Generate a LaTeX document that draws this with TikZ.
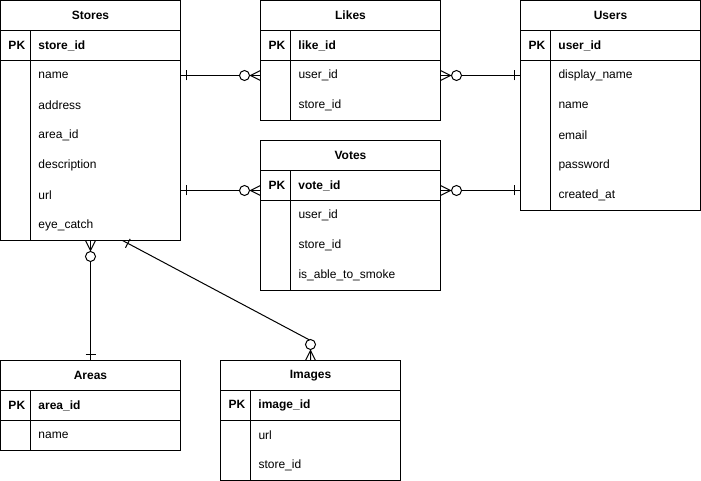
\documentclass[tikz,border=0pt]{standalone}
\usepackage{fontspec}
\setmainfont{Liberation Sans}
\usepackage{tikz}
\usetikzlibrary{positioning, fit, decorations.markings}

\newcommand{\keycol}[1]{\makebox[30pt][l]{#1}}

\begin{document}
\begin{tikzpicture}[
  x=1pt, y=-1pt, line width=1pt,
  font=\fontsize{12pt}{14pt}\selectfont,
  head/.style={rectangle, draw, anchor=north west, minimum width=180pt,
               minimum height=30pt, inner sep=0pt, outer sep=0pt,
               font=\fontsize{12pt}{14pt}\selectfont\bfseries},
  row/.style={rectangle, minimum height=30pt, text width=164pt,
              inner xsep=8pt, inner ysep=0pt, outer sep=0pt, align=left},
  pkrow/.style={row, draw, font=\fontsize{12pt}{14pt}\selectfont\bfseries},
  body/.style={rectangle, draw, inner sep=0pt, outer sep=0pt},
  one start/.style={postaction={decorate, decoration={markings,
      mark=at position 6pt with {\draw (0pt,-5pt) -- (0pt,5pt);}}}},
  one end/.style={postaction={decorate, decoration={markings,
      mark=at position -6pt with {\draw (0pt,-5pt) -- (0pt,5pt);}}}},
  many start/.style={postaction={decorate, decoration={markings,
      mark=at position 10pt with {\draw (-10pt,-5pt) -- (0pt,0pt) -- (-10pt,5pt);},
      mark=at position 16pt with {\draw[fill=white] (0pt,0pt) circle (5pt);}}}},
  many end/.style={postaction={decorate, decoration={markings,
      mark=at position -10pt with {\draw (10pt,-5pt) -- (0pt,0pt) -- (10pt,5pt);},
      mark=at position -16pt with {\draw[fill=white] (0pt,0pt) circle (5pt);}}}}
]
\useasboundingbox[fill=white] (-0.5,-0.5) rectangle (700.5,480.5);

%% Stores
\node[head] (SH) at (0,0) {Stores};
\node[pkrow, below=0pt of SH] (SK) {\keycol{PK}store\_id};
\node[row, below=0pt of SK] (S1) {\keycol{}name};
\node[row, below=0pt of S1] (S2) {\keycol{}address};
\node[row, below=0pt of S2] (S3) {\keycol{}area\_id};
\node[row, below=0pt of S3] (S4) {\keycol{}description};
\node[row, below=0pt of S4] (S5) {\keycol{}url};
\node[row, below=0pt of S5] (S6) {\keycol{}eye\_catch};
\node[body, fit=(S1)(S6)] (SB) {};
\draw ([xshift=30pt]SK.north west) -- ([xshift=30pt]SB.south west);

%% Likes
\node[head] (LH) at (260,0) {Likes};
\node[pkrow, below=0pt of LH] (LK) {\keycol{PK}like\_id};
\node[row, below=0pt of LK] (L1) {\keycol{}user\_id};
\node[row, below=0pt of L1] (L2) {\keycol{}store\_id};
\node[body, fit=(L1)(L2)] (LB) {};
\draw ([xshift=30pt]LK.north west) -- ([xshift=30pt]LB.south west);

%% Users
\node[head] (UH) at (520,0) {Users};
\node[pkrow, below=0pt of UH] (UK) {\keycol{PK}user\_id};
\node[row, below=0pt of UK] (U1) {\keycol{}display\_name};
\node[row, below=0pt of U1] (U2) {\keycol{}name};
\node[row, below=0pt of U2] (U3) {\keycol{}email};
\node[row, below=0pt of U3] (U4) {\keycol{}password};
\node[row, below=0pt of U4] (U5) {\keycol{}created\_at};
\node[body, fit=(U1)(U5)] (UB) {};
\draw ([xshift=30pt]UK.north west) -- ([xshift=30pt]UB.south west);

%% Votes
\node[head] (VH) at (260,140) {Votes};
\node[pkrow, below=0pt of VH] (VK) {\keycol{PK}vote\_id};
\node[row, below=0pt of VK] (V1) {\keycol{}user\_id};
\node[row, below=0pt of V1] (V2) {\keycol{}store\_id};
\node[row, below=0pt of V2] (V3) {\keycol{}is\_able\_to\_smoke};
\node[body, fit=(V1)(V3)] (VB) {};
\draw ([xshift=30pt]VK.north west) -- ([xshift=30pt]VB.south west);

%% Areas
\node[head] (AH) at (0,360) {Areas};
\node[pkrow, below=0pt of AH] (AK) {\keycol{PK}area\_id};
\node[row, below=0pt of AK] (A1) {\keycol{}name};
\node[body, fit=(A1)] (AB) {};
\draw ([xshift=30pt]AK.north west) -- ([xshift=30pt]AB.south west);

%% Images
\node[head] (IH) at (220,360) {Images};
\node[pkrow, below=0pt of IH] (IK) {\keycol{PK}image\_id};
\node[row, below=0pt of IK] (I1) {\keycol{}url};
\node[row, below=0pt of I1] (I2) {\keycol{}store\_id};
\node[body, fit=(I1)(I2)] (IB) {};
\draw ([xshift=30pt]IK.north west) -- ([xshift=30pt]IB.south west);

%% Relations
\draw[one start, many end] (S1.east) -- (L1.west);
\draw[many start, one end] (L1.east) -- (U1.west);
\draw[one start, many end] ([yshift=5pt]S5.east) -- ([yshift=-5pt]VK.west);
\draw[many start, one end] ([yshift=-5pt]VK.east) -- ([yshift=5pt]U5.west);
\draw[many start, one end] (SB.south) -- (AH.north);
\draw[one start, many end] ([xshift=32pt]SB.south) -- ([yshift=20pt]IH.north) -- (IH.north);
\end{tikzpicture}
\end{document}
